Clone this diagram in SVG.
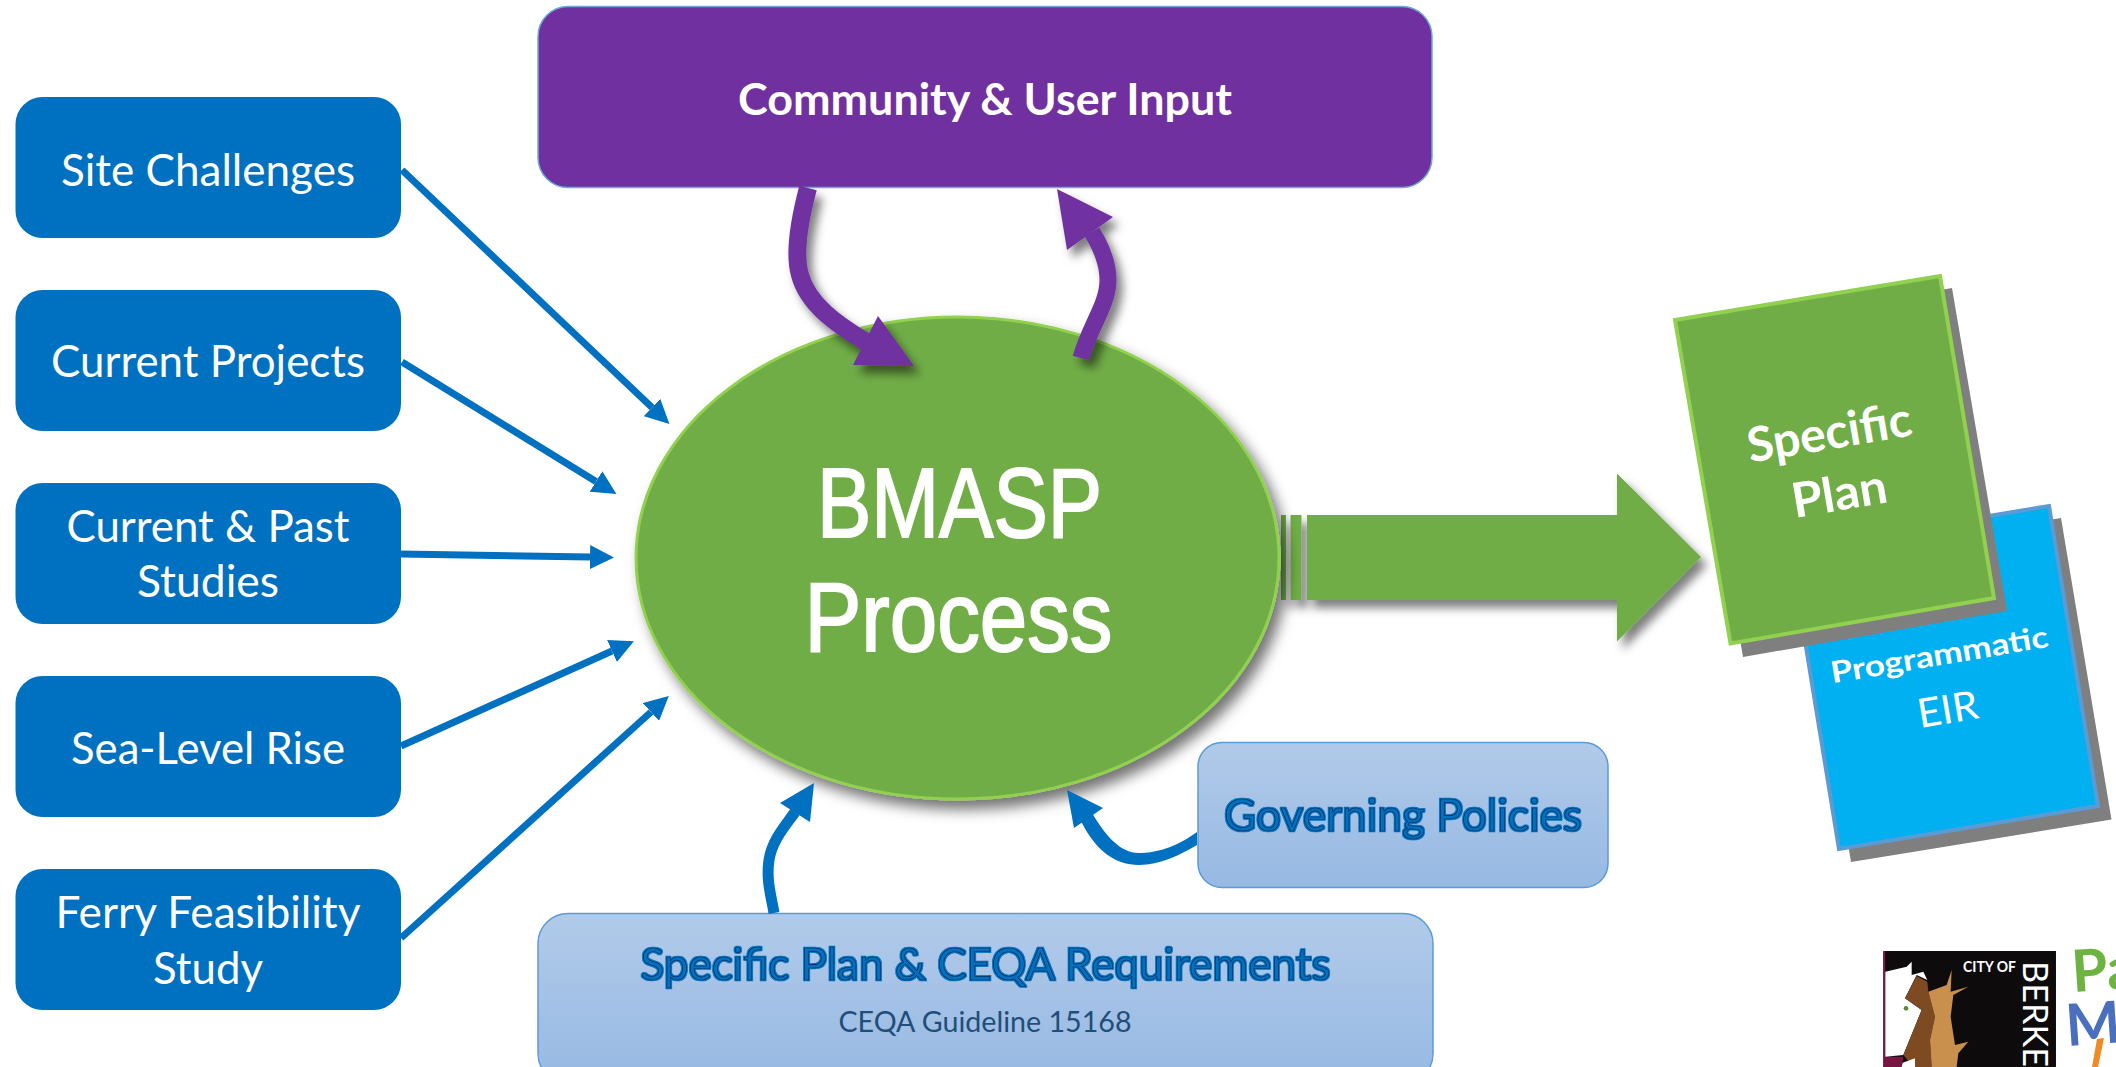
<svg xmlns="http://www.w3.org/2000/svg" width="2116" height="1067" viewBox="0 0 2116 1067">
<style>
.t{font-family:"Lato","Liberation Sans",sans-serif;text-anchor:middle}
.w{fill:#fff}
.s{font-size:44px}
.hl{fill:#0070C0;stroke:#06294d;stroke-width:.7px;font-size:44px;filter:url(#glow)}
.ln{stroke:#0070C0;stroke-width:7;fill:none;marker-end:url(#h)}
.big{font-family:"Liberation Sans",sans-serif;text-anchor:middle;fill:#fff;stroke:#fff;stroke-width:2;font-size:98px}
</style>
<defs>
<marker id="h" markerUnits="userSpaceOnUse" markerWidth="24" markerHeight="24" refX="0" refY="12" orient="auto"><path d="M0,0L24,12L0,24z" fill="#0070C0"/></marker>
<linearGradient id="lb" x1="0" y1="0" x2="0" y2="1"><stop offset="0" stop-color="#B1CAE9"/><stop offset="1" stop-color="#97B9E3"/></linearGradient>
<filter id="ds" x="-20%" y="-20%" width="140%" height="140%"><feDropShadow dx="6" dy="8" stdDeviation="5" flood-color="#000" flood-opacity=".5"/></filter>
<filter id="dc" x="-10%" y="-10%" width="120%" height="120%"><feDropShadow dx="7" dy="9" stdDeviation="7" flood-color="#000" flood-opacity=".55"/></filter>
<filter id="glow" x="-5%" y="-10%" width="110%" height="120%"><feMorphology in="SourceAlpha" operator="dilate" radius="1.200" result="d"/><feFlood flood-color="#0070C0"/><feComposite in2="d" operator="in" result="o"/><feMerge><feMergeNode in="o"/><feMergeNode in="SourceGraphic"/></feMerge></filter>
</defs>
<rect width="2116" height="1067" fill="#fff"/>
<g id="output-arrow" filter="url(#ds)" fill="#70AD47">
<rect x="1281" y="515" width="5" height="85"/><rect x="1290.500" y="515" width="11" height="85"/>
<path d="M1307,515H1617V473.500L1701,557L1617,641.600V600H1307z"/>
</g>
<g id="eir">
<path d="M1802,561L2061,518L2111.500,819.500L1851,862z" fill="#7F7F7F"/>
<path d="M1790,549L2049,506L2098,806L1839,849z" fill="#00B0F0" stroke="#5B9BD5" stroke-width="4"/>
<text class="t w" font-weight="700" font-size="30" textLength="220" lengthAdjust="spacingAndGlyphs" transform="translate(1941,665) rotate(-9.600)">Programmatic</text>
<text class="t w" font-size="40" textLength="61" lengthAdjust="spacingAndGlyphs" transform="translate(1950,723) rotate(-9.600)">EIR</text>
</g>
<g id="specific-plan">
<path d="M1688,333L1952,288L2007,611L1743,657z" fill="#7F7F7F"/>
<path d="M1675,320L1940,276L1994,598L1730.500,643.500z" fill="#70AD47" stroke="#92D050" stroke-width="4"/>
<text class="t w" font-weight="700" font-size="48" textLength="166" lengthAdjust="spacingAndGlyphs" transform="translate(1832,449) rotate(-9.600)">Specific</text>
<text class="t w" font-weight="700" font-size="48" textLength="96" lengthAdjust="spacingAndGlyphs" transform="translate(1842,510) rotate(-9.600)">Plan</text>
</g>
<g id="site-challenges"><rect x="15.500" y="97" width="385.500" height="141" rx="27" fill="#0070C0"/><text class="t w s" x="208" y="186" textLength="294" lengthAdjust="spacingAndGlyphs">Site Challenges</text></g>
<g id="current-projects"><rect x="15.500" y="290" width="385.500" height="141" rx="27" fill="#0070C0"/><text class="t w s" x="208" y="377" textLength="314" lengthAdjust="spacingAndGlyphs">Current Projects</text></g>
<g id="current-past"><rect x="15.500" y="483" width="385.500" height="141" rx="27" fill="#0070C0"/><text class="t w s" x="208" y="542" textLength="283" lengthAdjust="spacingAndGlyphs">Current &amp; Past</text><text class="t w s" x="208" y="597" textLength="142" lengthAdjust="spacingAndGlyphs">Studies</text></g>
<g id="sea-level"><rect x="15.500" y="676" width="385.500" height="141" rx="27" fill="#0070C0"/><text class="t w s" x="208" y="764" textLength="274" lengthAdjust="spacingAndGlyphs">Sea-Level Rise</text></g>
<g id="ferry"><rect x="15.500" y="869" width="385.500" height="141" rx="27" fill="#0070C0"/><text class="t w s" x="208" y="928" textLength="305" lengthAdjust="spacingAndGlyphs">Ferry Feasibility</text><text class="t w s" x="208" y="984" textLength="110" lengthAdjust="spacingAndGlyphs">Study</text></g>
<g id="community"><rect x="538" y="6.500" width="894" height="181" rx="30" fill="#7030A0" stroke="#6FA8DC" stroke-width="1.500"/><text class="t w" font-weight="700" font-size="44" x="985" y="115" textLength="494" lengthAdjust="spacingAndGlyphs">Community &amp; User Input</text></g>
<g id="process"><ellipse cx="957.500" cy="558" rx="321.500" ry="241" fill="#70AD47" stroke="#92D050" stroke-width="3" filter="url(#dc)"/>
<text class="big" x="959.500" y="537" textLength="285" lengthAdjust="spacingAndGlyphs">BMASP</text>
<text class="big" x="958.500" y="651" textLength="308" lengthAdjust="spacingAndGlyphs">Process</text></g>
<g id="governing"><rect x="1198" y="742.500" width="410" height="145" rx="24" fill="url(#lb)" stroke="#5B9BD5" stroke-width="1.500"/><text class="t hl" x="1403" y="831" textLength="358" lengthAdjust="spacingAndGlyphs">Governing Policies</text></g>
<g id="requirements"><rect x="538" y="913.500" width="895" height="170" rx="30" fill="url(#lb)" stroke="#5B9BD5" stroke-width="1.500"/><text class="t hl" x="985.500" y="980" textLength="690" lengthAdjust="spacingAndGlyphs">Specific Plan &amp; CEQA Requirements</text><text class="t" fill="#1F4E79" font-size="29" x="985" y="1032" textLength="293" lengthAdjust="spacingAndGlyphs">CEQA Guideline 15168</text></g>
<g id="connectors">
<path class="ln" d="M402,170L652,407.500"/>
<path class="ln" d="M402,362L596,481.500"/>
<path class="ln" d="M401,554L590,557"/>
<path class="ln" d="M401,746L612,651"/>
<path class="ln" d="M401,938L651,712"/>
<g fill="#0070C0">
<path d="M774,913C771,895 766,880 769,860C772,840 786,825 795,812" fill="none" stroke="#0070C0" stroke-width="11"/>
<path d="M814,783L780,803L810,822z"/>
<path d="M1197,832C1175,848 1155,853 1139,853C1120,853 1105,835 1092,813L1081,821C1095,850 1115,865 1139,865C1160,865 1180,855 1197,845z"/>
<path d="M1067,790L1103,808L1074,828z"/>
</g>
<g filter="url(#ds)">
<path d="M808,188C799,222 794,255 800,275C808,305 838,325 866,342" fill="none" stroke="#7030A0" stroke-width="18"/>
<path d="M878,316L914,366L853,365z" fill="#7030A0"/>
<path d="M1081,358C1090,325 1108,305 1108,280C1108,262 1100,245 1092,232" fill="none" stroke="#7030A0" stroke-width="17"/>
<path d="M1057,189L1113,217L1067,250z" fill="#7030A0"/>
</g>
</g>
<g id="logo">
<g transform="translate(1840,920) scale(.3333)">
<rect x="130" y="93" width="518" height="348" fill="#0D0B0C"/>
<path d="M130,93H136V410H190L185,441H130z" fill="#7A1440"/>
<path d="M136,155L200,140L215,125L215,165L250,155L262,180L230,165L195,235L245,270L190,405L136,410z" fill="#fff"/>
<path d="M230,168L262,185L265,215L285,290L270,360L275,441H220L190,405L245,270L195,235z" fill="#7E4A21"/>
<path d="M265,215L320,195L335,150L332,215L385,200L340,225L332,290L345,375L385,365L355,400L350,441H275L270,360L285,290z" fill="#C98F4C"/>
<path d="M188,428L225,415V441H185z" fill="#fff"/>
<circle cx="198" cy="265" r="7" fill="#5B8A3A"/>
</g>
<text font-family="Lato,sans-serif" fill="#fff" font-weight="700" font-size="16" x="1963" y="972" textLength="53" lengthAdjust="spacingAndGlyphs">CITY OF</text>
<text font-family="Lato,sans-serif" fill="#fff" font-size="35" transform="translate(2023,961) rotate(90)" textLength="106" lengthAdjust="spacingAndGlyphs">BERKE</text>
<text font-family="Lato,sans-serif" font-weight="700" fill="#6DB33F" font-size="58" transform="translate(2073,992) rotate(-4)">Pa</text>
<text font-family="Lato,sans-serif" font-weight="700" fill="#4A6FBF" font-size="58" transform="translate(2067,1046) rotate(-4)">M</text>
<path d="M2097,1039L2104,1038L2098,1067H2092z" fill="#F08A24"/>
</g>
</svg>
